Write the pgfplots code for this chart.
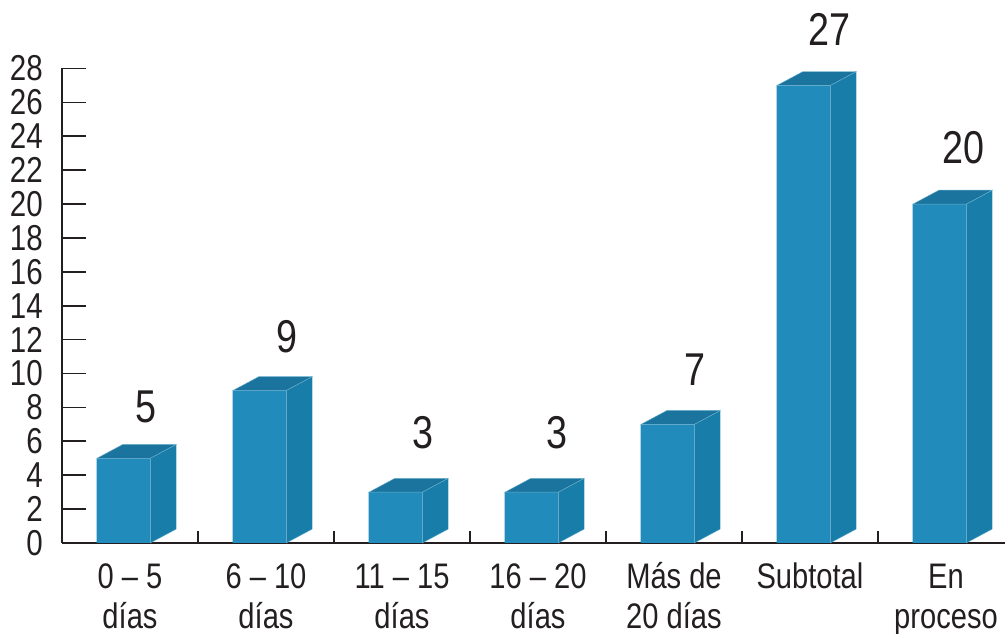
\documentclass[border=0pt]{standalone}
\usepackage{fontspec}
\setmainfont[FakeStretch=0.82]{Liberation Sans}
\usepackage{pgfplots}
\usepackage{pgfplotstable}
\pgfplotsset{compat=1.18}
\definecolor{txt}{HTML}{231F20}
\definecolor{front}{HTML}{218BBC}
\definecolor{side}{HTML}{187DA8}
\definecolor{top}{HTML}{1A749D}
\definecolor{edge}{HTML}{6DB2D0}

\pgfplotstableread{
x y
0 5
1 9
2 3
3 3
4 7
5 27
6 20
}\bars

% position of the value labels
\pgfplotstableread{
x y l
0.118 8.02 5
1.155 12.15 9
2.155 6.49 3
3.140 6.49 3
4.155 10.20 7
5.140 30.32 27
6.126 23.30 20
}\vals

\begin{document}
\begin{tikzpicture}
\path[use as bounding box] (0pt,0pt) rectangle (1005pt,634pt);
\begin{axis}[
at={(62pt,91pt)}, anchor=south west,
scale only axis,
width=943pt, height=474.5pt,
xmin=-0.5, xmax=6.434,
ymin=0, ymax=28,
clip=false,
axis x line=bottom, axis y line=left,
axis line style={-, line width=2pt, color=txt},
tick align=inside,
xtick={0,...,6},
xticklabels={{\strut 0 – 5\\días},{\strut 6 – 10\\días},{\strut 11 – 15\\días},{\strut 16 – 20\\días},{\strut Más de\\20 días},{\strut Subtotal},{\strut En\\proceso}},
minor xtick={-0.5,0.5,1.5,2.5,3.5,4.5,5.5},
major x tick style={draw=none},
minor tick length=12pt,
minor x tick style={line width=1.7pt, color=txt},
ytick={0,2,...,28},
major tick length=24pt,
y tick style={line width=1.7pt, color=txt},
/pgf/number format/assume math mode=true,
yticklabel style={font=\fontsize{36}{36}\selectfont, text=txt, inner sep=0pt, xshift=-19pt},
xticklabel style={font=\fontsize{35.5}{39.5}\selectfont, text=txt, align=center, inner sep=0pt, yshift=-18pt},
side/.style={fill=side, draw=edge, line width=0.4pt},
roof/.style={fill=top, draw=edge, line width=0.4pt},
]
\addplot[ybar, bar width=53.5pt, bar shift=-6.5pt, fill=front, draw=none] table[x=x, y=y] {\bars};

% side faces
\addplot[side] coordinates {(0.149,0) (0.340,0.82) (0.340,5.82) (0.149,5)} -- cycle;
\addplot[side] coordinates {(1.149,0) (1.340,0.82) (1.340,9.82) (1.149,9)} -- cycle;
\addplot[side] coordinates {(2.149,0) (2.340,0.82) (2.340,3.82) (2.149,3)} -- cycle;
\addplot[side] coordinates {(3.149,0) (3.340,0.82) (3.340,3.82) (3.149,3)} -- cycle;
\addplot[side] coordinates {(4.149,0) (4.340,0.82) (4.340,7.82) (4.149,7)} -- cycle;
\addplot[side] coordinates {(5.149,0) (5.340,0.82) (5.340,27.82) (5.149,27)} -- cycle;
\addplot[side] coordinates {(6.149,0) (6.340,0.82) (6.340,20.82) (6.149,20)} -- cycle;

% top faces
\addplot[roof] coordinates {(-0.243,5) (-0.052,5.82) (0.340,5.82) (0.149,5)} -- cycle;
\addplot[roof] coordinates {(0.757,9) (0.948,9.82) (1.340,9.82) (1.149,9)} -- cycle;
\addplot[roof] coordinates {(1.757,3) (1.948,3.82) (2.340,3.82) (2.149,3)} -- cycle;
\addplot[roof] coordinates {(2.757,3) (2.948,3.82) (3.340,3.82) (3.149,3)} -- cycle;
\addplot[roof] coordinates {(3.757,7) (3.948,7.82) (4.340,7.82) (4.149,7)} -- cycle;
\addplot[roof] coordinates {(4.757,27) (4.948,27.82) (5.340,27.82) (5.149,27)} -- cycle;
\addplot[roof] coordinates {(5.757,20) (5.948,20.82) (6.340,20.82) (6.149,20)} -- cycle;

\addplot[draw=none, mark=none, point meta=explicit symbolic,
  nodes near coords,
  every node near coord/.append style={anchor=center, inner sep=0pt, text=txt, font=\fontsize{46}{46}\selectfont}]
  table[x=x, y=y, meta=l] {\vals};
\end{axis}
\end{tikzpicture}
\end{document}
